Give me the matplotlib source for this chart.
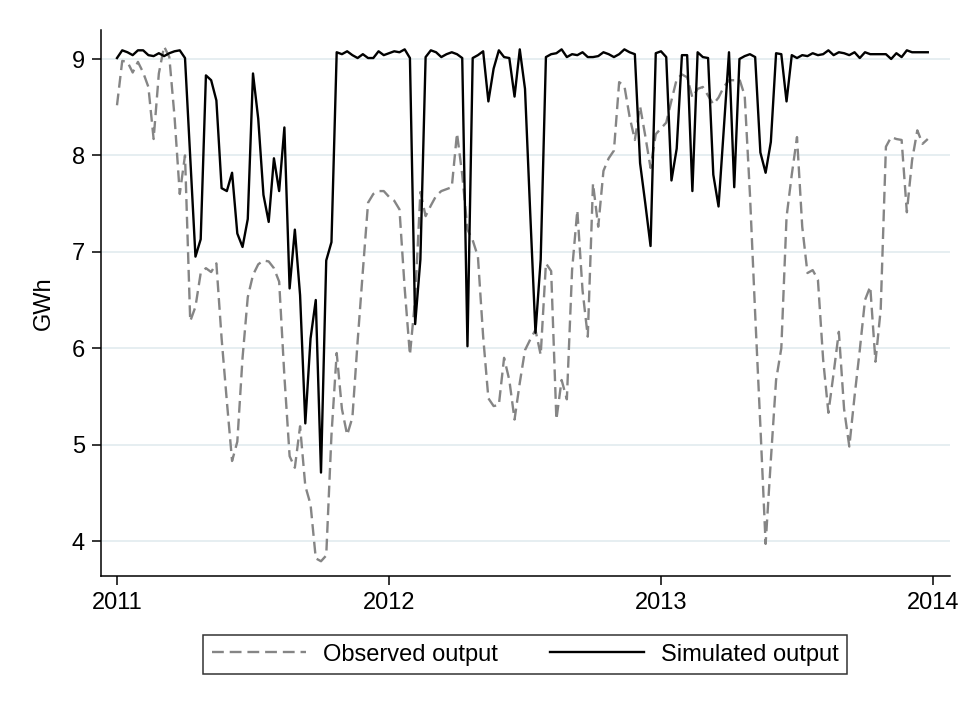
import numpy as np
import matplotlib
matplotlib.use("Agg")
import matplotlib.pyplot as plt

plt.rcParams['font.family'] = ['Liberation Sans', 'DejaVu Sans']

# weekly output, 2011w1 - 2013w52 (GWh)
observed = [
    8.52, 8.98, 8.97, 8.86, 8.97, 8.86, 8.71, 8.17, 8.85, 9.13, 9.02, 8.40, 7.60, 8.00,
    6.28, 6.43, 6.78, 6.83, 6.79, 6.88, 6.10, 5.45, 4.83, 5.03, 5.90, 6.53, 6.76, 6.87,
    6.91, 6.90, 6.83, 6.69, 5.71, 4.88, 4.76, 5.19, 4.57, 4.38, 3.82, 3.79, 3.85, 5.10,
    5.95, 5.37, 5.10, 5.28, 6.07,
    6.80, 7.51, 7.60, 7.63, 7.63, 7.57, 7.53, 7.44, 6.62, 5.93, 6.51, 7.62, 7.37, 7.48,
    7.58, 7.63, 7.65, 7.67, 8.23, 7.80,
    7.23, 7.12, 6.95, 6.12, 5.48, 5.40, 5.41, 5.90, 5.67, 5.26, 5.64, 5.98, 6.09, 6.19,
    5.93, 6.88, 6.80, 5.26, 5.67, 5.47, 6.81, 7.43, 6.60, 6.12, 7.71, 7.26, 7.84, 7.97,
    8.05, 8.76, 8.72, 8.40, 8.16,
    8.51, 8.20, 7.87, 8.22, 8.28, 8.34, 8.57, 8.79, 8.84, 8.81, 8.60, 8.69, 8.71, 8.62,
    8.53, 8.60, 8.71, 8.78, 8.78, 8.79, 8.62, 7.60, 6.36, 5.19, 3.97, 4.84, 5.67, 6.00,
    7.36, 7.80, 8.19, 7.26, 6.78, 6.81, 6.71, 5.88, 5.33, 5.74, 6.17, 5.37, 4.98, 5.50,
    5.98, 6.50, 6.64, 5.86, 6.40, 8.09, 8.19, 8.17, 8.16, 7.41, 7.95, 8.26, 8.12, 8.17,
]

simulated = [
    9.01, 9.09, 9.07, 9.04, 9.09, 9.09, 9.04, 9.03, 9.06, 9.03, 9.06, 9.08, 9.09, 9.01,
    7.98, 6.95, 7.13, 8.83, 8.78, 8.57, 7.66, 7.63, 7.82, 7.19, 7.05, 7.34, 8.85, 8.38,
    7.59, 7.31, 7.97, 7.63, 8.29, 6.62, 7.23, 6.55, 5.22, 6.10, 6.50, 4.71, 6.91, 7.10,
    9.07, 9.05, 9.08, 9.04, 9.01, 9.05, 9.01, 9.01, 9.08, 9.04, 9.06, 9.08, 9.07, 9.10,
    9.01, 6.25, 6.92, 9.02, 9.09, 9.07, 9.02, 9.05, 9.07, 9.05, 9.01, 6.02,
    9.01, 9.04, 9.08, 8.56, 8.90, 9.09, 9.02, 9.01, 8.61, 9.10, 8.69, 7.40, 6.16, 6.92,
    9.02, 9.05, 9.06, 9.10, 9.02, 9.05, 9.04, 9.07, 9.02, 9.02, 9.03, 9.07, 9.05, 9.02,
    9.05, 9.10, 9.07, 9.05,
    7.92, 7.50, 7.06, 9.06, 9.08, 9.02, 7.74, 8.07, 9.04, 9.04, 7.63, 9.07, 9.02, 9.01,
    7.80, 7.47, 8.27, 9.07, 7.67, 9.00, 9.03, 9.05, 9.02, 8.03, 7.82, 8.14, 9.06, 9.05,
    8.56, 9.04, 9.01, 9.04, 9.03, 9.06, 9.04, 9.05, 9.09, 9.04, 9.07, 9.06, 9.04, 9.07,
    9.01, 9.07, 9.05, 9.05, 9.05, 9.05, 9.00, 9.06, 9.02, 9.09, 9.07, 9.07, 9.07, 9.07,
]

year_ticks = [2011, 2012, 2013, 2014]
gwh_ticks = [4, 5, 6, 7, 8, 9]

week = np.arange(len(observed))
t = 2011 + week / 52

fs = 17

fig = plt.figure(figsize=(9.66, 7.04), dpi=100)
ax = fig.add_axes([101/966, 1 - 576/704, 849/966, 546/704])

ax.set_xlim(2011 - 16/272, 2014 + 17/272)
ax.set_ylim(4 - 35/96.4, 9 + 29/96.4)

for v in gwh_ticks:
    ax.axhline(v, color='#e6eef1', lw=1.4, zorder=0)

ax.plot(t, observed, color='#858585', lw=1.7, ls=(0, (5, 2.5)), label='Observed output')
ax.plot(t, simulated, color='black', lw=1.7, label='Simulated output')

ax.set_xticks(year_ticks)
ax.set_yticks(gwh_ticks)
ax.tick_params(axis='both', direction='out', length=6.5, width=1.1, pad=5, labelsize=fs)
for s in ['top', 'right']:
    ax.spines[s].set_visible(False)
for s in ['left', 'bottom']:
    ax.spines[s].set_linewidth(1.1)
ax.set_ylabel('GWh', fontsize=fs, labelpad=12)

leg = fig.legend(loc='center', bbox_to_anchor=(525/966, 1 - 654.5/704), ncol=2,
                 fontsize=fs, frameon=True, fancybox=False, handlelength=4.0,
                 handletextpad=0.7, columnspacing=2.2, borderpad=0.35, borderaxespad=0)
leg.get_frame().set_edgecolor('black')
leg.get_frame().set_linewidth(1.1)

fig.savefig('out.png', dpi=100, facecolor='white')
